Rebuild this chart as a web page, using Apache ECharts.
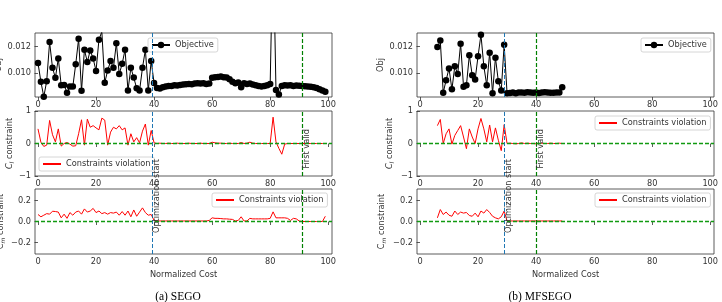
<!DOCTYPE html>
<html>
<head>
<meta charset="utf-8">
<script src="https://cdn.jsdelivr.net/npm/echarts@6/dist/echarts.min.js"></script>
<style>html,body{margin:0;padding:0;background:#fff}#chart{width:722px;height:302px}</style>
</head>
<body>
<div id="chart"></div>
<script>
// normalized cost of the first sample of each run
var startA = 0;
var startB = 6;

// (a) SEGO
var objA = [0.01076, 0.00936, 0.00824, 0.00940, 0.01232, 0.01040, 0.00965, 0.01110, 0.00910, 0.00912,
            0.00854, 0.00900, 0.00900, 0.01067, 0.01257, 0.00869, 0.01175, 0.01084, 0.01170, 0.01110,
            0.01017, 0.01250, 0.01310, 0.00928, 0.01020, 0.01090, 0.01040, 0.01224, 0.00993, 0.01070,
            0.01175, 0.00870, 0.01040, 0.00967, 0.00887, 0.00870, 0.01040, 0.01175, 0.00870, 0.01090,
            0.00926, 0.00890, 0.00885, 0.00895, 0.00900, 0.00905, 0.00905, 0.00910, 0.00908, 0.00912,
            0.00915, 0.00918, 0.00920, 0.00918, 0.00922, 0.00925, 0.00922, 0.00925, 0.00920, 0.00922,
            0.00965, 0.00970, 0.00972, 0.00975, 0.00970, 0.00968, 0.00955, 0.00935, 0.00925, 0.00930,
            0.00895, 0.00925, 0.00920, 0.00922, 0.00915, 0.00910, 0.00905, 0.00900, 0.00905, 0.00910,
            0.00920, 0.02000, 0.00875, 0.00840, 0.00905, 0.00910, 0.00908, 0.00910, 0.00905, 0.00908,
            0.00906, 0.00905, 0.00903, 0.00900, 0.00898, 0.00895, 0.00890, 0.00880, 0.00870, 0.00862];
var clA = [0.45, 0.04, -0.09, -0.05, 0.71, 0.27, 0.05, 0.45, -0.08, 0.00,
           0.03, -0.02, -0.08, -0.07, 0.30, 0.73, -0.05, 0.75, 0.50, 0.55,
           0.48, 0.42, 0.78, 0.72, -0.05, 0.35, 0.50, 0.45, 0.55, 0.42,
           0.48, -0.05, 0.30, 0.05, 0.18, 0.02, 0.38, 0.60, -0.05, 0.40,
           0.02, 0.00, 0.01, 0.00, 0.00, 0.01, 0.00, 0.00, 0.01, 0.00,
           0.00, 0.00, 0.01, 0.00, 0.00, 0.00, 0.01, 0.00, 0.00, 0.00,
           0.04, 0.02, 0.01, 0.01, 0.00, 0.00, 0.01, 0.00, 0.00, 0.00,
           0.03, 0.00, 0.01, 0.04, 0.01, 0.00, 0.00, 0.00, 0.00, 0.00,
           0.00, 0.81, 0.05, -0.15, -0.33, -0.02, 0.00, 0.00, 0.00, 0.00,
           0.00, 0.00, 0.00, 0.00, 0.00, 0.00, 0.00, 0.00, 0.00, 0.00];
var cmA = [0.067, 0.045, 0.060, 0.075, 0.070, 0.098, 0.095, 0.090, 0.035, 0.070,
           0.030, 0.085, 0.060, 0.090, 0.100, 0.070, 0.120, 0.090, 0.100, 0.125,
           0.085, 0.100, 0.075, 0.085, 0.070, 0.085, 0.080, 0.090, 0.060, 0.095,
           0.060, 0.100, 0.045, 0.110, 0.050, 0.090, 0.130, 0.085, 0.060, 0.067,
           0.010, 0.005, 0.005, 0.005, 0.005, 0.005, 0.005, 0.005, 0.005, 0.005,
           0.005, 0.005, 0.005, 0.005, 0.005, 0.005, 0.005, 0.005, 0.005, 0.010,
           0.035, 0.030, 0.030, 0.028, 0.025, 0.025, 0.022, 0.020, 0.005, 0.010,
           0.045, 0.005, 0.005, 0.030, 0.025, 0.025, 0.025, 0.025, 0.025, 0.025,
           0.030, 0.092, 0.035, 0.035, 0.035, 0.035, 0.030, 0.010, 0.030, 0.025,
           0.005, 0.000, 0.000, 0.000, 0.000, 0.000, 0.000, 0.000, 0.000, 0.050];

// (b) MFSEGO
var objB = [0.01195, 0.01244, 0.00854, 0.00948, 0.01035, 0.00879, 0.01052, 0.00993, 0.01220, 0.00899,
            0.00910, 0.01133, 0.00985, 0.00953, 0.01126, 0.01287, 0.01052, 0.00910, 0.01153, 0.00850,
            0.01116, 0.00940, 0.00870, 0.01213, 0.00850, 0.00852, 0.00855, 0.00850, 0.00856, 0.00855,
            0.00853, 0.00857, 0.00855, 0.00854, 0.00856, 0.00852, 0.00855, 0.00857, 0.00855, 0.00853,
            0.00854, 0.00856, 0.00855, 0.00894];
var clB = [0.55, 0.74, 0.00, 0.30, 0.45, -0.02, 0.25, 0.40, 0.55, 0.20,
           -0.16, 0.45, 0.20, 0.00, 0.45, 0.77, 0.45, 0.05, 0.57, 0.05,
           0.48, 0.10, -0.22, 0.58, 0.00, 0.01, 0.00, -0.01, 0.00, 0.02,
           0.00, 0.01, 0.00, 0.00, -0.01, 0.00, 0.01, 0.00, 0.00, 0.01,
           0.00, 0.00, 0.01, 0.00];
var cmB = [0.035, 0.114, 0.067, 0.090, 0.060, 0.050, 0.100, 0.067, 0.090, 0.080,
           0.086, 0.057, 0.050, 0.080, 0.045, 0.100, 0.080, 0.114, 0.086, 0.050,
           0.035, 0.025, 0.045, 0.100, 0.005, 0.005, 0.005, 0.005, 0.005, 0.005,
           0.005, 0.005, 0.005, 0.005, 0.005, 0.005, 0.005, 0.005, 0.005, 0.005,
           0.005, 0.005, 0.005, 0.005];

// ticks and markers
var xTicks = [0, 20, 40, 60, 80, 100];
var objTicks = [0.010, 0.012];
var clTicks = [-1, 0, 1];
var cmTicks = [-0.2, 0.0, 0.2];
var optStart = [39.3, 29];
var firstValid = [91, 40];
var captions = ['(a) SEGO', '(b) MFSEGO'];

var FONT = 'DejaVu Sans';
var chart = echarts.init(document.getElementById('chart'));

function pairs(arr, start) {
    return arr.map(function (v, i) { return [start + i, v]; });
}
function minusFmt(d) {
    return function (v) { return (v < 0 ? '\u2212' : '') + Math.abs(v).toFixed(d); };
}

var dash = [4, 2];
function vLines(k) {
    return [
        {xAxis: optStart[k], lineStyle: {color: '#1f77b4', type: dash, width: 1}},
        {xAxis: firstValid[k], lineStyle: {color: '#008000', type: dash, width: 1.2}}
    ];
}
function zeroLine() {
    return {yAxis: 0, lineStyle: {color: '#119a11', type: dash, width: 1.3}};
}

var lefts = [35, 417];
var tops = [33, 111, 189];
var heights = [64, 65, 65];
var grids = [], xAxes = [], yAxes = [];
var yMin = [0.00822, -1, -0.31], yMax = [0.0130, 1, 0.31];
var yTickSets = [objTicks, clTicks, cmTicks];
var yFmt = [function (v) { return v.toFixed(3); }, minusFmt(0), minusFmt(1)];
var yNames = ['Obj', '{it|C}{sub|l} constraint', 'C{sub|m} constraint'];
var yGaps = [[32.5, 32.5], [18.5, 21.5], [29, 30]];

for (var p = 0; p < 2; p++) {
    for (var r = 0; r < 3; r++) {
        var gi = p * 3 + r;
        grids.push({left: lefts[p], top: tops[r], width: 297, height: heights[r],
                    outerBoundsMode: 'none', containLabel: false,
                    show: true, borderColor: '#333', borderWidth: 0.8, backgroundColor: 'transparent'});
        xAxes.push({
            gridIndex: gi, type: 'value', min: -1.03, max: 101.3,
            axisLine: {show: false}, splitLine: {show: false},
            axisTick: {customValues: xTicks, length: 3.5, lineStyle: {color: '#333', width: 0.8}},
            axisLabel: {customValues: xTicks, margin: 4, fontSize: 8.2, color: '#333', fontFamily: FONT},
            name: r === 2 ? 'Normalized Cost' : '', nameLocation: 'middle', nameGap: 17,
            nameTextStyle: {fontSize: 8.2, color: '#333', fontFamily: FONT}
        });
        yAxes.push({
            gridIndex: gi, type: 'value', min: yMin[r], max: yMax[r],
            axisLine: {show: false}, splitLine: {show: false},
            axisTick: {customValues: yTickSets[r], length: 3.5, lineStyle: {color: '#333', width: 0.8}},
            axisLabel: {customValues: yTickSets[r], margin: 4, fontSize: 8.2, color: '#333', fontFamily: FONT,
                        formatter: yFmt[r]},
            name: yNames[r], nameLocation: 'middle', nameRotate: 90, nameGap: yGaps[r][p],
            nameTextStyle: {fontSize: 8.2, color: '#333', fontFamily: FONT,
                            rich: {it: {fontStyle: 'italic', fontSize: 8.2, fontFamily: FONT, color: '#333'},
                                   sub: {fontStyle: 'italic', fontSize: 6, fontFamily: FONT, color: '#333',
                                         padding: [5, 0, 0, 0]}}}
        });
    }
}

var sets = [[objA, clA, cmA, startA], [objB, clB, cmB, startB]];
var series = [];
for (var k = 0; k < 2; k++) {
    var s = sets[k];
    series.push({
        name: 'Objective', type: 'line', xAxisIndex: k * 3, yAxisIndex: k * 3,
        data: pairs(s[0], s[3]), symbol: 'circle', symbolSize: 6.5, showAllSymbol: true,
        itemStyle: {color: '#000'}, lineStyle: {color: '#000', width: 1},
        markLine: {silent: true, symbol: ['none', 'none'], label: {show: false}, animation: false,
                   data: vLines(k)}
    });
    series.push({
        name: 'Constraints violation', type: 'line', xAxisIndex: k * 3 + 1, yAxisIndex: k * 3 + 1,
        data: pairs(s[1], s[3]), symbol: 'none', itemStyle: {color: '#ff0000'},
        lineStyle: {color: '#ff0000', width: 1},
        markLine: {silent: true, symbol: ['none', 'none'], label: {show: false}, animation: false,
                   data: [zeroLine()].concat(vLines(k))}
    });
    series.push({
        name: 'Constraints violation', type: 'line', xAxisIndex: k * 3 + 2, yAxisIndex: k * 3 + 2,
        data: pairs(s[2], s[3]), symbol: 'none', itemStyle: {color: '#ff0000'},
        lineStyle: {color: '#ff0000', width: 1},
        markLine: {silent: true, symbol: ['none', 'none'], label: {show: false}, animation: false,
                   data: [zeroLine()].concat(vLines(k))}
    });
}

function legendAt(name, left, top, hideSymbol) {
    var lg = {
        data: [name], left: left, top: top, itemWidth: 18, itemHeight: 8,
        padding: [3, 4, 3, 3], borderColor: '#cccccc', borderWidth: 0.8, borderRadius: 2,
        backgroundColor: 'rgba(255,255,255,0.8)', selectedMode: false,
        textStyle: {fontSize: 8.2, color: '#333', fontFamily: FONT}
    };
    if (hideSymbol) lg.itemStyle = {opacity: 0};
    return lg;
}

chart.setOption({
    animation: false,
    grid: grids, xAxis: xAxes, yAxis: yAxes, series: series,
    legend: [
        legendAt('Objective', 148, 38, false),
        legendAt('Constraints violation', 39, 157, true),
        legendAt('Constraints violation', 212, 193, true),
        legendAt('Objective', 641, 38, false),
        legendAt('Constraints violation', 595, 116, true),
        legendAt('Constraints violation', 595, 193, true)
    ]
});

// rotated annotations next to the vertical lines, placed through the axes
var optTextY = -0.11;   // in C_m units (bottom of the text)
var validTextY = -0.77; // in C_l units (bottom of the text)
var captionX = [178, 540];
var graphics = [];
for (var k2 = 0; k2 < 2; k2++) {
    var pOpt = chart.convertToPixel({xAxisIndex: k2 * 3 + 2, yAxisIndex: k2 * 3 + 2}, [optStart[k2], optTextY]);
    var pVal = chart.convertToPixel({xAxisIndex: k2 * 3 + 1, yAxisIndex: k2 * 3 + 1}, [firstValid[k2], validTextY]);
    graphics.push({type: 'text', x: pOpt[0] + 0.5, y: pOpt[1], rotation: Math.PI / 2, z: 100,
                   style: {text: 'Optimization start', fontSize: 8.2, fontFamily: FONT, fill: '#333',
                           align: 'left', verticalAlign: 'top'}});
    graphics.push({type: 'text', x: pVal[0] + 0.5, y: pVal[1], rotation: Math.PI / 2, z: 100,
                   style: {text: 'First valid', fontSize: 8.2, fontFamily: FONT, fill: '#333',
                           align: 'left', verticalAlign: 'top'}});
    graphics.push({type: 'text', x: captionX[k2], y: 297,
                   style: {text: captions[k2], fontSize: 11.5, fontFamily: 'Liberation Serif', fill: '#000',
                           align: 'center', verticalAlign: 'middle'}});
}
chart.setOption({graphic: graphics});

window.onresize = function () { chart.resize(); };
</script>
</body>
</html>
